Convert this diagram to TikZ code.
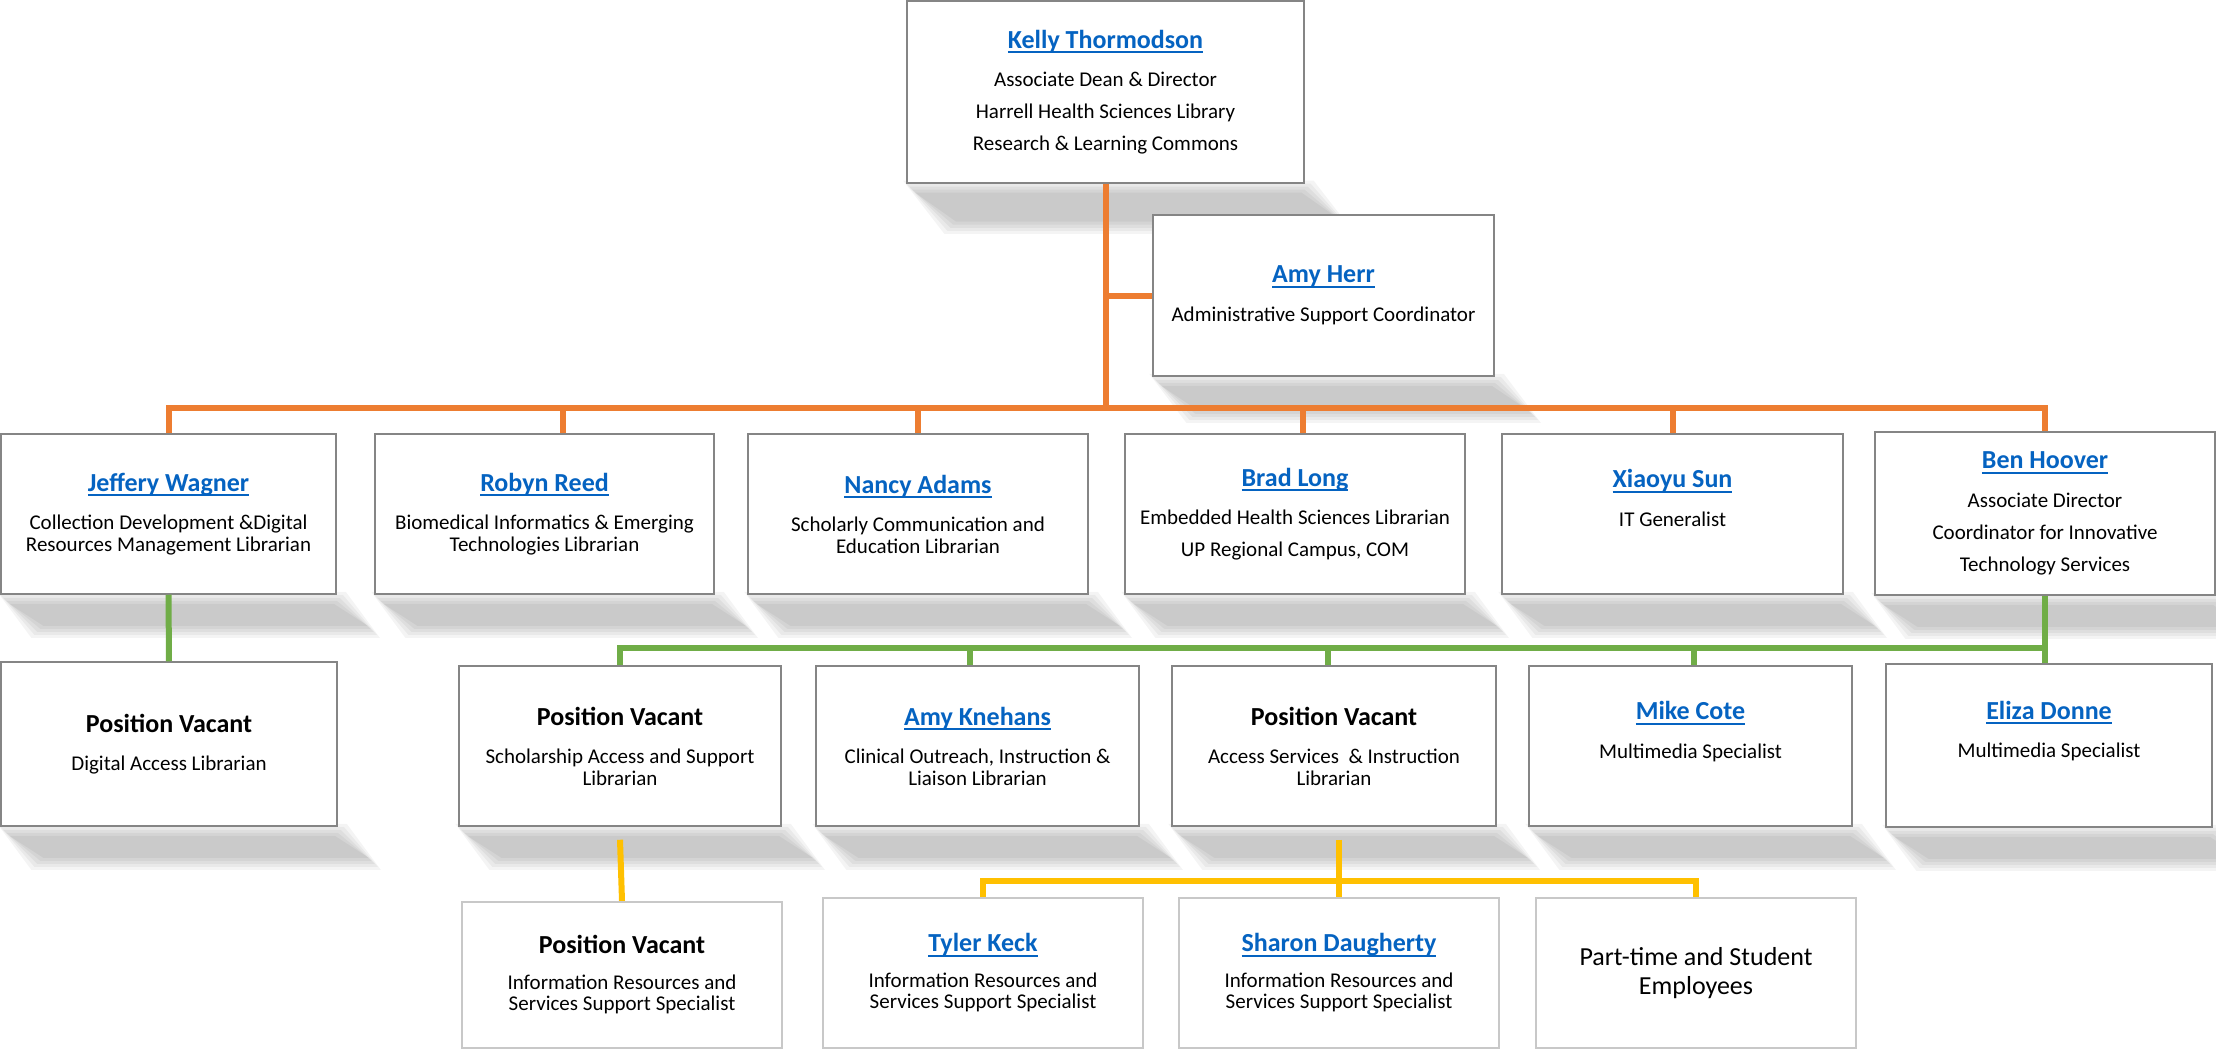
\documentclass[tikz,border=0pt]{standalone}
\usepackage{fontspec}
\setmainfont{Carlito}
\usetikzlibrary{calc}
\pgfdeclarelayer{background}
\pgfsetlayers{background,main}

\definecolor{orgorange}{HTML}{ED7D31}
\definecolor{orggreen}{HTML}{70AD47}
\definecolor{orgyellow}{HTML}{FFC000}
\definecolor{nameblue}{HTML}{0563C1}
\definecolor{boxgray}{HTML}{858585}
\definecolor{lowgray}{HTML}{C8C8C8}

% underlined name in blue
\newcommand{\staffname}[1]{{\fontsize{26}{21.5}\selectfont\bfseries\color{nameblue}%
  \setbox0\hbox{#1}\rlap{\rule[-5pt]{\wd0}{2pt}}\box0}}
\newcommand{\vacant}{{\fontsize{26}{21.5}\selectfont\bfseries Position Vacant}}
% soft slanted shadow under a box
\newcommand{\dropshadow}[2]{%
  \foreach \e in {-6,-3,0,3,6}{
    \fill[black,opacity=0.045] ($(#1.south west)+(3+\e,3+\e)$) -- ($(#1.south east)+(3-\e,3+\e)$)
      -- ($(#1.south east)+(#2-\e,#2-\e)$) -- ($(#1.south west)+(#2+\e,#2-\e)$) -- cycle;
  }}

\tikzset{
  orgbox/.style 2 args={draw=boxgray, line width=1.5pt, fill=white, align=center, inner sep=0pt,
    minimum width=#1pt, minimum height=#2pt, font=\fontsize{21}{21.5}\selectfont},
  lowbox/.style 2 args={orgbox={#1}{#2}, draw=lowgray, line width=2.2pt},
  orgline/.style={draw=orgorange, line width=6pt},
  grnline/.style={draw=orggreen, line width=6pt},
  ylwline/.style={draw=orgyellow, line width=6pt}
}

\begin{document}
\begin{tikzpicture}[x=1pt,y=-1pt]
	\useasboundingbox (0,0) rectangle (2216,1051);
	% direction
	\node[orgbox={397}{182}] (kelly) at (1105.5,92) {\staffname{Kelly Thormodson}\\[17pt]
		Associate Dean \& Director\\[10.5pt] Harrell Health Sciences Library\\[10.5pt] Research \& Learning Commons};
	\node[orgbox={341}{161}] (herr) at (1323.5,295.5) {\staffname{Amy Herr}\\[17pt] Administrative Support Coordinator};
	% second row
	\node[orgbox={335}{160}] (wagner) at (168.5,514) {\staffname{Jeffery Wagner}\\[17pt]
		Collection Development \&Digital\\ Resources Management Librarian};
	\node[orgbox={339}{160}] (reed) at (544.5,514) {\staffname{Robyn Reed}\\[17pt]
		Biomedical Informatics \& Emerging\\ Technologies Librarian};
	\node[orgbox={340}{160}] (nancy) at (918,514) {\staffname{Nancy Adams}\\[17pt]
		Scholarly Communication and\\ Education Librarian};
	\node[orgbox={340}{160}] (brad) at (1295,514) {\staffname{Brad Long}\\[17pt]
		Embedded Health Sciences Librarian\\[10.5pt] UP Regional Campus, COM};
	\node[orgbox={341}{160}] (sun) at (1672.5,514) {\staffname{Xiaoyu Sun}\\[17pt] IT Generalist\\[10.5pt]\mbox{}};
	\node[orgbox={340}{163}] (hoover) at (2045,513.5) {\staffname{Ben Hoover}\\[17pt]
		Associate Director\\[10.5pt] Coordinator for Innovative\\[10.5pt] Technology Services};
	% third row
	\node[orgbox={336}{164}] (vac1) at (169,744) {\vacant\\[17pt] Digital Access Librarian};
	\node[orgbox={322}{160}] (vac2) at (620,746) {\vacant\\[17pt] Scholarship Access and Support\\ Librarian};
	\node[orgbox={323}{160}] (knehans) at (977.5,746) {\staffname{Amy Knehans}\\[17pt]
		Clinical Outreach, Instruction \&\\ Liaison Librarian};
	\node[orgbox={324}{160}] (vac3) at (1334,746) {\vacant\\[17pt] Access Services \ \& Instruction\\ Librarian};
	\node[orgbox={323}{160}] (cote) at (1690.5,746) {\staffname{Mike Cote}\\[17pt] Multimedia Specialist\\[10.5pt]\mbox{}};
	\node[orgbox={326}{163}] (eliza) at (2049,745.5) {\staffname{Eliza Donne}\\[17pt] Multimedia Specialist\\[10.5pt]\mbox{}};
	% fourth row
	\node[lowbox={320}{146}] (vac4) at (622,975) {\vacant\\[14pt]
		Information Resources and\\ Services Support Specialist};
	\node[lowbox={320}{150}] (keck) at (983,973) {\staffname{Tyler Keck}\\[14pt]
		Information Resources and\\ Services Support Specialist};
	\node[lowbox={320}{150}] (daugherty) at (1339,973) {\staffname{Sharon Daugherty}\\[14pt]
		Information Resources and\\ Services Support Specialist};
	\node[lowbox={320}{150}, font=\fontsize{26}{29}\selectfont] (parttime) at (1696,973) {Part-time and Student\\ Employees};

	% shadows
	\begin{pgfonlayer}{background}
		\fill[white] (0,0) rectangle (2216,1051);
		\dropshadow{kelly}{44}
		\dropshadow{herr}{40}
		\foreach \n in {wagner,reed,nancy,brad,sun,hoover,vac1,vac2,knehans,vac3,cote,eliza}
			{\dropshadow{\n}{37}}
	\end{pgfonlayer}

	% orange lines
	\coordinate (obus) at (1105.5,408);
	\draw[orgline] (kelly.south) -- (obus);
	\draw[orgline] (kelly.south |- herr.west) -- (herr.west);
	\draw[orgline] (wagner.north) |- (obus) -| (hoover.north);
	\foreach \n/\dx in {reed/18,nancy/0,brad/8,sun/0}
		\draw[orgline] ([xshift=\dx pt]\n.north |- obus) -- ([xshift=\dx pt]\n.north);
	% green lines
	\coordinate (gbus) at (2045,648);
	\draw[grnline] (wagner.south) -- (vac1.north);
	\draw[grnline] (hoover.south) -- (hoover.south |- eliza.north);
	\draw[grnline] (vac2.north) |- (gbus);
	\foreach \n/\dx in {knehans/-8,vac3/-6,cote/3}
		\draw[grnline] ([xshift=\dx pt]\n.north |- gbus) -- ([xshift=\dx pt]\n.north);
	% yellow lines
	\coordinate (ybus) at (1339,881);
	\draw[ylwline] ($(vac2.south)+(0,13)$) -- (vac4.north);
	\draw[ylwline] (keck.north) |- (ybus) -| (parttime.north);
	\draw[ylwline] ($(vac3.south -| daugherty.north)+(0,13)$) -- (daugherty.north);
\end{tikzpicture}
\end{document}
